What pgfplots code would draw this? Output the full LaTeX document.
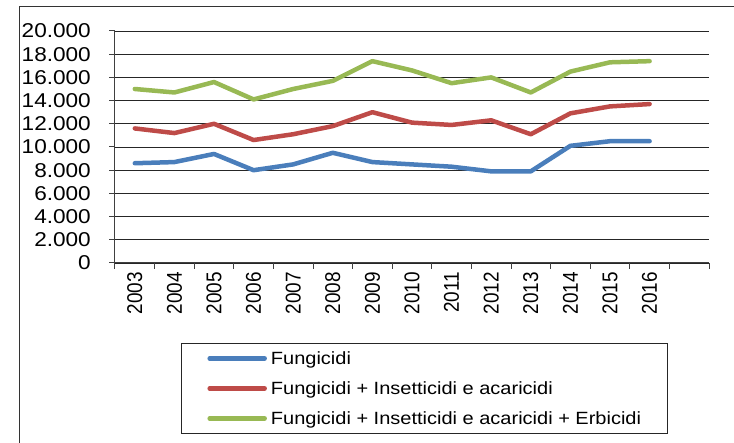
\documentclass[border=0pt]{standalone}
\usepackage{pgfplots}
\pgfplotsset{compat=1.18}
\usepackage{fontspec}
\setmainfont{Liberation Sans}[FakeStretch=1.13]
\newfontfamily\xfont{Liberation Sans}[FakeStretch=0.885]
\definecolor{sblue}{HTML}{4A7EBB}
\definecolor{sred}{HTML}{BE4B48}
\definecolor{sgreen}{HTML}{98B954}
\begin{document}
\begin{tikzpicture}[x=1pt,y=1pt]
\useasboundingbox (0,0) rectangle (734,443);
\draw[black!80, line width=1pt] (19,0) -- (19,436) -- (740,436);
\begin{axis}[
  at={(115pt,180pt)}, anchor=south west,
  scale only axis, width=594pt, height=232pt,
  xmin=2002.5, xmax=2017.5, ymin=0, ymax=20000,
  axis x line=bottom, axis y line=left,
  axis line style={-, black!75, line width=1pt},
  xtick={2002.5,2003.5,...,2017.5}, xticklabels={},
  extra x ticks={2003,2004,2005,2006,2007,2008,2009,2010,2011,2012,2013,2014,2015,2016},
  extra x tick labels={2003,2004,2005,2006,2007,2008,2009,2010,2011,2012,2013,2014,2015,2016},
  extra x tick style={major tick length=0pt, grid=none,
    xticklabel style={yshift=-9pt, rotate=90, anchor=east, inner sep=0pt,
      font=\xfont\fontsize{21.4}{22}\selectfont}},
  ytick={0,2000,...,20000}, scaled y ticks=false,
  tick align=outside, major tick length=6pt,
  tick style={black!75, line width=1pt},
  ymajorgrids, grid style={black!85, line width=0.9pt},
  /pgf/number format/.cd, 1000 sep={.}, assume math mode=true, /pgfplots/.cd,
  yticklabel style={font=\fontsize{20}{22}\selectfont, anchor=east, inner sep=0pt, xshift=-18pt},
  every axis plot/.append style={line width=4.5pt, line cap=round, line join=round},
  legend style={at={(0.1111,-0.3448)}, anchor=north west, draw=black!85, line width=0.9pt,
    font=\fontsize{17.7}{20}\selectfont, inner xsep=26pt, inner ysep=0pt, row sep=0pt,
    column sep=4pt, cells={anchor=west},
    nodes={inner sep=0pt, text height=21.3pt, text depth=8.7pt}},
  legend image code/.code={\draw[#1] (0pt,0pt) -- (55pt,0pt);},
  legend cell align=left,
]
\addplot[sblue] coordinates {
(2003,8600) (2004,8700) (2005,9400) (2006,8000) (2007,8500) (2008,9500) (2009,8700)
(2010,8500) (2011,8300) (2012,7900) (2013,7900) (2014,10100) (2015,10500) (2016,10500)};
\addlegendentry{Fungicidi}
\addplot[sred] coordinates {
(2003,11600) (2004,11200) (2005,12000) (2006,10600) (2007,11100) (2008,11800) (2009,13000)
(2010,12100) (2011,11900) (2012,12300) (2013,11100) (2014,12900) (2015,13500) (2016,13700)};
\addlegendentry{Fungicidi + Insetticidi e acaricidi}
\addplot[sgreen] coordinates {
(2003,15000) (2004,14700) (2005,15600) (2006,14100) (2007,15000) (2008,15700) (2009,17400)
(2010,16600) (2011,15500) (2012,16000) (2013,14700) (2014,16500) (2015,17300) (2016,17400)};
\addlegendentry{Fungicidi + Insetticidi e acaricidi + Erbicidi}
\end{axis}
\end{tikzpicture}
\end{document}
